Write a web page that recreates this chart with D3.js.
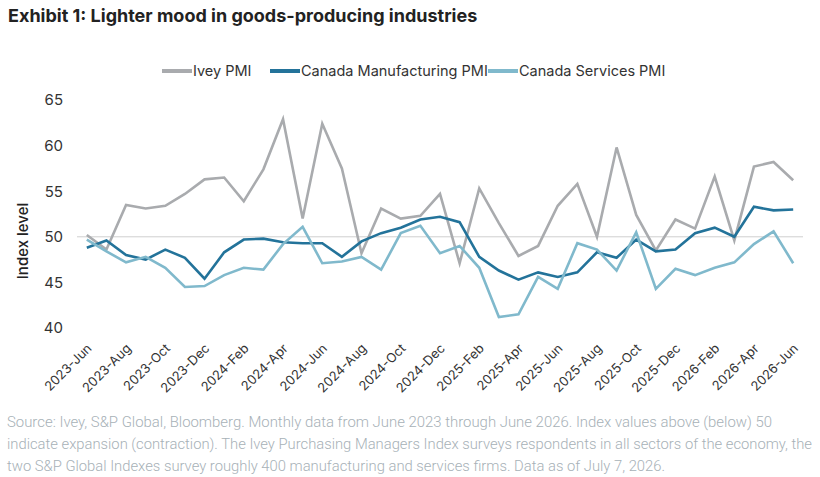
<!DOCTYPE html>
<html>
<head>
<meta charset="utf-8">
<style>
  body { margin: 0; background: #fff; }
  svg { display: block; font-family: Inter, "Open Sans", sans-serif; }
</style>
</head>
<body>
  <svg id="chart"></svg>

  <script src="https://cdn.jsdelivr.net/npm/d3@7"></script>
  <script>
    // months June 2023 .. June 2026
    var monthNames = ['Jan','Feb','Mar','Apr','May','Jun','Jul','Aug','Sep','Oct','Nov','Dec']
    var months = []
    for (var y = 2023; y <= 2026; y++) {
      for (var m = 0; m < 12; m++) {
        if (y === 2023 && m < 5) continue
        if (y === 2026 && m > 5) continue
        months.push(y + '-' + monthNames[m])
      }
    }

    var ivey = [50.2, 48.6, 53.5, 53.1, 53.4, 54.7, 56.3, 56.5, 53.9, 57.4, 62.9, 52.0,
                62.4, 57.5, 48.2, 53.1, 52.0, 52.3, 54.7, 47.1, 55.3, 51.5, 47.9, 49.0,
                53.4, 55.8, 50.0, 59.8, 52.4, 48.5, 51.9, 50.9, 56.6, 49.6, 57.7, 58.2, 56.2]
    var manufacturing = [48.8, 49.6, 48.0, 47.5, 48.6, 47.7, 45.4, 48.3, 49.7, 49.8, 49.4, 49.3,
                49.3, 47.8, 49.5, 50.4, 51.0, 51.9, 52.2, 51.6, 47.8, 46.3, 45.3, 46.1,
                45.6, 46.1, 48.3, 47.7, 49.7, 48.4, 48.6, 50.4, 51.0, 50.0, 53.3, 52.9, 53.0]
    var services = [49.7, 48.4, 47.2, 47.8, 46.6, 44.5, 44.6, 45.8, 46.6, 46.4, 49.2, 51.1,
                47.1, 47.3, 47.8, 46.4, 50.4, 51.2, 48.2, 49.0, 46.6, 41.2, 41.5, 45.6,
                44.3, 49.3, 48.6, 46.3, 50.5, 44.3, 46.5, 45.8, 46.6, 47.2, 49.2, 50.6, 47.1]

    var seriesNames = ['Ivey PMI', 'Canada Manufacturing PMI', 'Canada Services PMI']
    var seriesColors = ['#a9abae', '#23739a', '#80b9cc']
    var yTicks = [40, 45, 50, 55, 60, 65]
    var tickMonths = months.filter(function(d, i) { return i % 2 === 0 })

    var footnote = [
      'Source: Ivey, S&P Global, Bloomberg. Monthly data from June 2023 through June 2026. Index values above (below) 50',
      'indicate expansion (contraction). The Ivey Purchasing Managers Index surveys respondents in all sectors of the economy, the',
      'two S&P Global Indexes survey roughly 400 manufacturing and services firms. Data as of July 7, 2026.'
    ]
    var footWidths = [765, 805, 658]

    var width = 820, height = 477
    var svg = d3.select('#chart').attr('width', width).attr('height', height)

    var x = d3.scalePoint().domain(months).range([77, 803]).padding(0.5)
    var yScale = d3.scaleLinear().domain([40, 65]).range([328, 100])

    // title
    svg.append('text')
      .attr('x', 8).attr('y', 22)
      .attr('font-size', 18).attr('font-weight', 700)
      .attr('fill', '#222')
      .text('Exhibit 1: Lighter mood in goods-producing industries')

    // legend
    var legendX = [162, 270, 488]
    seriesNames.forEach(function(name, i) {
      var g = svg.append('g').attr('transform', 'translate(' + legendX[i] + ',71)')
      g.append('line').attr('x1', 0).attr('x2', 30).attr('y1', 0).attr('y2', 0)
        .attr('stroke', seriesColors[i]).attr('stroke-width', 4)
      g.append('text').attr('x', 31).attr('y', 5)
        .attr('font-size', 14.5).attr('fill', '#333')
        .text(name)
    })

    // 50 line
    svg.append('line')
      .attr('x1', 77).attr('x2', 803)
      .attr('y1', yScale(50)).attr('y2', yScale(50))
      .attr('stroke', '#cfcfcf').attr('stroke-width', 1)

    // y axis
    var yAxis = svg.append('g').attr('transform', 'translate(77,0)')
      .call(d3.axisLeft(yScale).tickValues(yTicks).tickSize(0).tickPadding(14))
    yAxis.select('.domain').remove()
    yAxis.selectAll('text').attr('font-size', 15).attr('fill', '#333')
      .attr('font-family', 'Inter, "Open Sans", sans-serif')

    svg.append('text')
      .attr('transform', 'translate(28,241) rotate(-90)')
      .attr('text-anchor', 'middle')
      .attr('font-size', 15).attr('font-weight', 500).attr('fill', '#222')
      .text('Index level')

    // x axis
    var xAxis = svg.append('g').attr('transform', 'translate(0,336)')
      .call(d3.axisBottom(x).tickValues(tickMonths).tickSize(0).tickPadding(0))
    xAxis.select('.domain').remove()
    xAxis.selectAll('text')
      .attr('font-size', 13).attr('fill', '#333')
      .attr('font-family', 'Inter, "Open Sans", sans-serif')
      .attr('text-anchor', 'end')
      .attr('dy', '0.35em')
      .attr('transform', 'translate(2,10) rotate(-45)')

    // lines
    var line = d3.line()
      .x(function(d, i) { return x(months[i]) })
      .y(function(d) { return yScale(d) })

    var allSeries = [ivey, manufacturing, services]
    allSeries.forEach(function(s, i) {
      svg.append('path')
        .datum(s)
        .attr('d', line)
        .attr('fill', 'none')
        .attr('stroke', seriesColors[i])
        .attr('stroke-width', 2.6)
        .attr('stroke-linejoin', 'miter')
    })

    // footnote
    footnote.forEach(function(t, i) {
      svg.append('text')
        .attr('x', 7).attr('y', 427 + i * 22)
        .attr('font-size', 14.5).attr('fill', '#a7b1b7')
        .attr('font-family', 'Roboto, sans-serif')
        .attr('font-weight', 300)
        .attr('textLength', footWidths[i])
        .attr('lengthAdjust', 'spacingAndGlyphs')
        .text(t)
    })
  </script>
</body>
</html>
